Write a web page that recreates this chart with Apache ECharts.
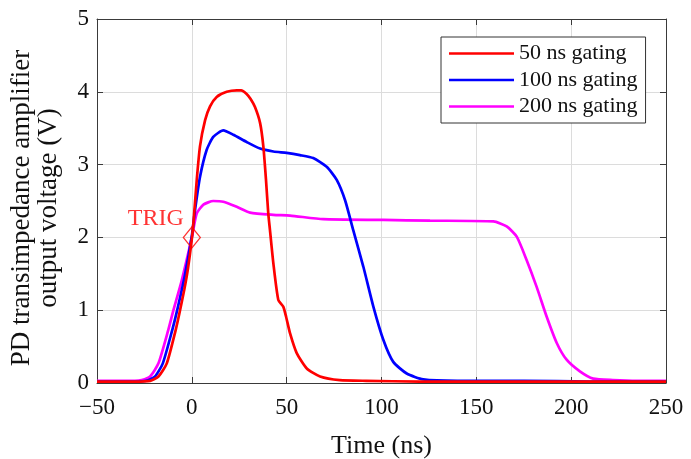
<!DOCTYPE html>
<html>
<head>
<meta charset="utf-8">
<script src="https://cdn.jsdelivr.net/npm/echarts@6/dist/echarts.min.js"></script>
<style>
html,body{margin:0;padding:0;background:#fff;}
#chart{width:691px;height:459px;}
</style>
</head>
<body>
<div id="chart"></div>
<script>
// ---- data ----
const seriesNames = ['50 ns gating', '100 ns gating', '200 ns gating'];

const t50 = [-50, -40, -30, -22, -17.6, -13.2, -8.5, -6.6, -4, -2, 0, 1, 2.6, 4.3, 7, 9.6, 13.1, 18.4, 23.7, 26, 28.9, 31, 33.3, 36, 37.7, 39.1, 40.3, 41.2, 43, 45.6, 48.2, 49.7, 51.8, 55.3, 60.6, 67.6, 78, 92, 120, 150, 200, 250];
const v50 = [0.02, 0.02, 0.02, 0.03, 0.09, 0.27, 0.73, 0.95, 1.28, 1.58, 1.98, 2.25, 2.79, 3.25, 3.61, 3.8, 3.93, 4.0, 4.02, 4.02, 3.97, 3.9, 3.79, 3.57, 3.25, 2.79, 2.33, 2.1, 1.64, 1.14, 1.05, 0.91, 0.68, 0.41, 0.2, 0.09, 0.04, 0.03, 0.02, 0.02, 0.02, 0.02];

const t100 = [-50, -40, -30, -24, -19.4, -15.3, -10.3, -8, -3.9, 0, 1.7, 4.3, 7.8, 11.3, 16.6, 21.9, 28.9, 36, 43, 50, 57, 64, 71.1, 76.4, 80.8, 85.1, 90.4, 95.7, 101, 106.2, 113.3, 122, 140, 175, 210, 250];
const v100 = [0.02, 0.02, 0.02, 0.03, 0.09, 0.27, 0.73, 0.97, 1.45, 2.02, 2.38, 2.83, 3.2, 3.38, 3.47, 3.41, 3.31, 3.22, 3.18, 3.16, 3.13, 3.09, 2.97, 2.79, 2.51, 2.1, 1.6, 1.05, 0.59, 0.29, 0.13, 0.05, 0.03, 0.03, 0.02, 0.02];

const t200 = [-50, -40, -30, -26.4, -22, -17.6, -12.4, -9.7, -5.3, 0, 2.6, 6.1, 11.3, 16.6, 23.7, 30.7, 43, 51.8, 69.3, 101, 125.6, 159, 166, 171.3, 176.5, 181.8, 187.1, 192.4, 197.6, 204.6, 211.6, 222, 235, 250];
const v200 = [0.03, 0.03, 0.03, 0.04, 0.09, 0.27, 0.73, 1.0, 1.41, 2.0, 2.33, 2.45, 2.5, 2.49, 2.42, 2.34, 2.31, 2.3, 2.25, 2.24, 2.23, 2.22, 2.15, 2.01, 1.69, 1.32, 0.91, 0.55, 0.32, 0.16, 0.06, 0.04, 0.03, 0.03];

const trigPoint = [0, 2];
const trigLabel = 'TRIG';

const xMin = -50, xMax = 250, xStep = 50;
const yMin = 0, yMax = 5, yStep = 1;
const xTitle = 'Time (ns)';
const yTitle = 'PD transimpedance amplifier\noutput voltage (V)';
// --------------------------------------

const colors = ['#ff0000', '#0000ff', '#ff00ff'];
const font = '"Liberation Serif", "Times New Roman", serif';
const axisColor = '#3a3a3a';

function zip(t, v) { return t.map((x, i) => [x, v[i]]); }

const chart = echarts.init(document.getElementById('chart'), null, {renderer: 'canvas'});

const lineSeries = [[t50, v50], [t100, v100], [t200, v200]].map((d, i) => ({
  name: seriesNames[i],
  type: 'line',
  data: zip(d[0], d[1]),
  showSymbol: false,
  symbol: 'none',
  smooth: 0.2,
  lineStyle: {color: colors[i], width: 2.7},
  itemStyle: {color: colors[i]},
  z: 5 - i,
  animation: false
}));

const fmt = v => (v < 0 ? '\u2212' + Math.abs(v) : String(v));

const tick = {show: true, inside: true, length: 6, lineStyle: {color: axisColor}};
const line = {show: true, onZero: false, lineStyle: {color: axisColor, width: 1}};

chart.setOption({
  animation: false,
  backgroundColor: '#fff',
  grid: {left: 97, right: 25, top: 19, bottom: 76, containLabel: false, outerBoundsMode: 'none'},
  legend: {
    data: seriesNames.map((n, i) => ({name: n, icon: 'rect', itemStyle: {color: colors[i]}})),
    orient: 'vertical',
    left: 441,
    top: 37,
    itemWidth: 65,
    itemHeight: 2.5,
    itemGap: 4.5,
    padding: [5.5, 8, 5.5, 8],
    backgroundColor: '#fff',
    borderColor: '#333',
    borderWidth: 1,
    textStyle: {fontFamily: font, fontSize: 22, color: '#111', lineHeight: 22}
  },
  xAxis: [{
    type: 'value', min: xMin, max: xMax, interval: xStep,
    name: xTitle, nameLocation: 'middle', nameGap: 50,
    nameTextStyle: {fontFamily: font, fontSize: 26, color: '#111'},
    axisLine: line, axisTick: tick,
    axisLabel: {fontFamily: font, fontSize: 23, color: '#111', margin: 13, formatter: fmt},
    splitLine: {show: true, lineStyle: {color: '#dcdcdc', width: 1}}
  }, {
    type: 'value', min: xMin, max: xMax, interval: xStep, position: 'top',
    axisLine: line, axisTick: tick,
    axisLabel: {show: false}, splitLine: {show: false}
  }],
  yAxis: [{
    type: 'value', min: yMin, max: yMax, interval: yStep,
    name: yTitle, nameLocation: 'middle', nameGap: 35, nameRotate: 90,
    nameTextStyle: {fontFamily: font, fontSize: 27, color: '#111', lineHeight: 27, padding: [0, 14, 0, 0]},
    axisLine: line, axisTick: tick,
    axisLabel: {fontFamily: font, fontSize: 23, color: '#111', margin: 8, formatter: fmt},
    splitLine: {show: true, lineStyle: {color: '#dcdcdc', width: 1}}
  }, {
    type: 'value', min: yMin, max: yMax, interval: yStep, position: 'right',
    axisLine: line, axisTick: tick,
    axisLabel: {show: false}, splitLine: {show: false}
  }],
  series: lineSeries.concat([{
    name: 'trig',
    type: 'scatter',
    data: [trigPoint],
    symbol: 'diamond',
    symbolSize: [17, 21],
    itemStyle: {color: 'rgba(0,0,0,0)', borderColor: '#ff0000', borderWidth: 1.3},
    label: {
      show: true, position: 'left', distance: 0, offset: [1, -19],
      formatter: trigLabel, fontFamily: font, fontSize: 24, color: '#ff0000'
    },
    z: 10,
    silent: true
  }])
});
</script>
</body>
</html>
